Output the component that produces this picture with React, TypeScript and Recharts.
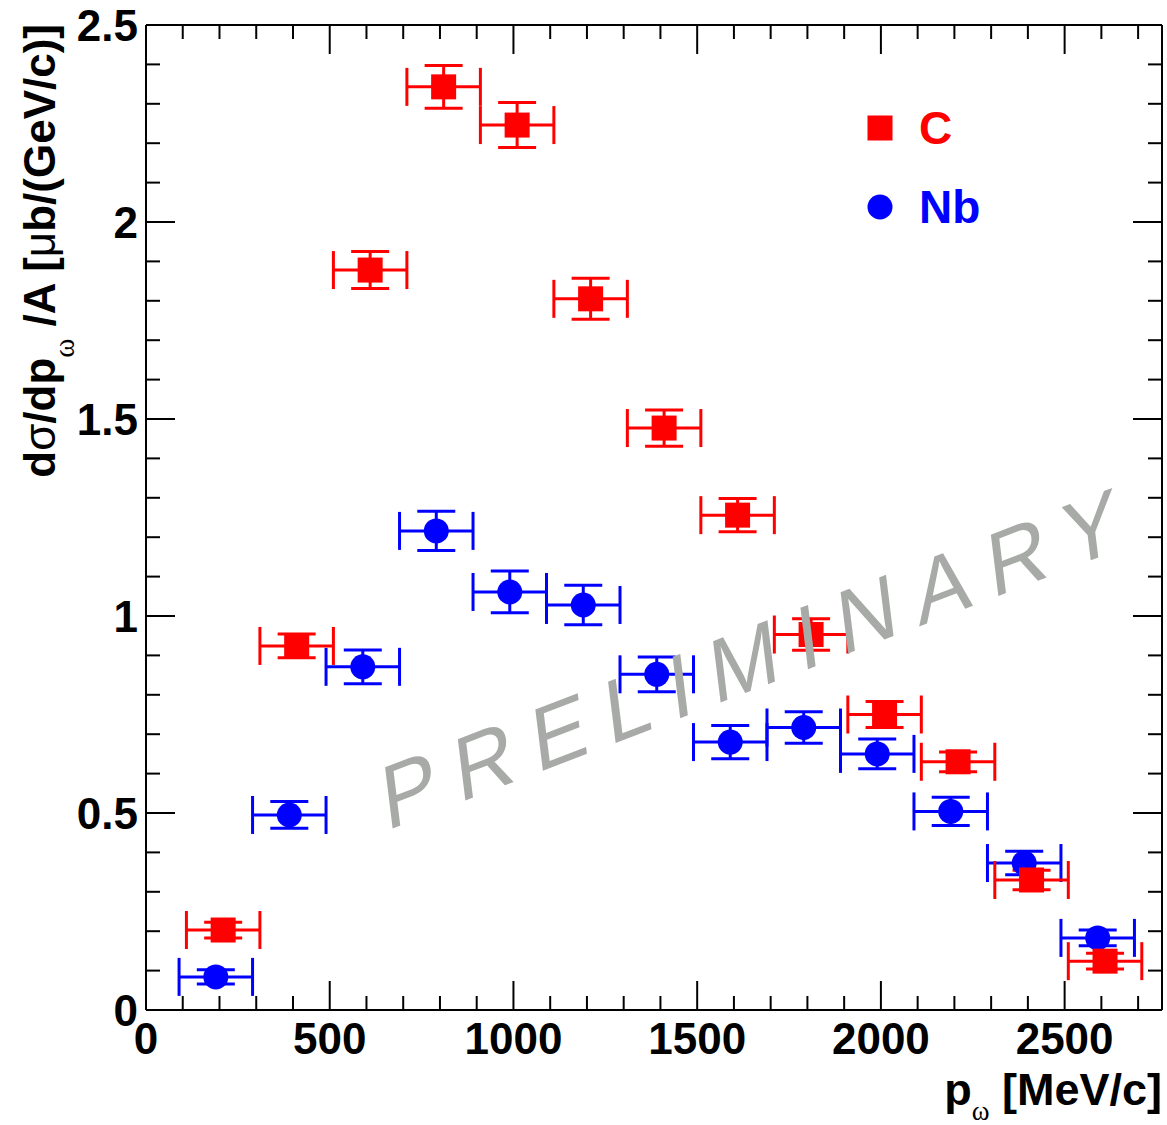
import React from "react";
import { ErrorBar, Legend, Scatter, ScatterChart, XAxis, YAxis } from "recharts";

// p_omega bin centres (MeV/c), shifted by +-10 per target as in the plot
const carbonP = [210, 410, 610, 810, 1010, 1210, 1410, 1610, 1810, 2010, 2210, 2410, 2610];
const carbonXs = [0.203, 0.924, 1.878, 2.343, 2.246, 1.805, 1.477, 1.256, 0.953, 0.75, 0.63, 0.33, 0.124];
const carbonErr = [0.02, 0.03, 0.047, 0.054, 0.057, 0.052, 0.046, 0.042, 0.04, 0.033, 0.025, 0.025, 0.02];

const niobiumP = [190, 390, 590, 790, 990, 1190, 1390, 1590, 1790, 1990, 2190, 2390, 2590];
const niobiumXs = [0.084, 0.495, 0.871, 1.216, 1.061, 1.028, 0.852, 0.68, 0.717, 0.65, 0.504, 0.373, 0.183];
const niobiumErr = [0.018, 0.034, 0.043, 0.05, 0.053, 0.05, 0.044, 0.042, 0.04, 0.038, 0.036, 0.03, 0.02];

const binHalfWidth = 100;

const xTicks = [0, 100, 200, 300, 400, 500, 600, 700, 800, 900, 1000, 1100, 1200, 1300, 1400, 1500, 1600, 1700, 1800, 1900, 2000, 2100, 2200, 2300, 2400, 2500, 2600, 2700];
const xLabels = [0, 500, 1000, 1500, 2000, 2500];
const yTicks = [0, 0.1, 0.2, 0.3, 0.4, 0.5, 0.6, 0.7, 0.8, 0.9, 1, 1.1, 1.2, 1.3, 1.4, 1.5, 1.6, 1.7, 1.8, 1.9, 2, 2.1, 2.2, 2.3, 2.4, 2.5];
const yLabels = [0, 0.5, 1, 1.5, 2, 2.5];

const carbon = carbonP.map((p, i) => ({ p, xs: carbonXs[i], ex: binHalfWidth, ey: carbonErr[i] }));
const niobium = niobiumP.map((p, i) => ({ p, xs: niobiumXs[i], ex: binHalfWidth, ey: niobiumErr[i] }));

const FONT = "'Liberation Sans', Arial, Helvetica, sans-serif";
const RED = "#ff0000";
const BLUE = "#0000ff";
const MAJOR = 29;
const MINOR = 14;

const hasLabel = (list: number[], v: number) => list.some((l) => Math.abs(l - v) < 1e-6);

function BottomTick({ x, y, payload }: any) {
  const v = payload.value;
  const major = hasLabel(xLabels, v);
  return (
    <g>
      <line x1={x} x2={x} y1={y} y2={y - (major ? MAJOR : MINOR)} stroke="#000" strokeWidth={2} />
      {major && (
        <text x={x} y={y + 44} textAnchor="middle" fontFamily={FONT} fontWeight="bold" fontSize={44} fill="#000">
          {v}
        </text>
      )}
    </g>
  );
}

function TopTick({ x, y, payload }: any) {
  const major = hasLabel(xLabels, payload.value);
  return <line x1={x} x2={x} y1={y} y2={y + (major ? MAJOR : MINOR)} stroke="#000" strokeWidth={2} />;
}

function LeftTick({ x, y, payload }: any) {
  const v = payload.value;
  const major = hasLabel(yLabels, v);
  return (
    <g>
      <line x1={x} x2={x + (major ? MAJOR : MINOR)} y1={y} y2={y} stroke="#000" strokeWidth={2} />
      {major && (
        <text x={x - 8} y={y + 15.5} textAnchor="end" fontFamily={FONT} fontWeight="bold" fontSize={44} fill="#000">
          {String(v)}
        </text>
      )}
    </g>
  );
}

function RightTick({ x, y, payload }: any) {
  const major = hasLabel(yLabels, payload.value);
  return <line x1={x} x2={x - (major ? MAJOR : MINOR)} y1={y} y2={y} stroke="#000" strokeWidth={2} />;
}

const square = (props: any) => (
  <rect x={props.cx - 12.5} y={props.cy - 12.5} width={25} height={25} fill={RED} />
);
const dot = (props: any) => <circle cx={props.cx} cy={props.cy} r={12.5} fill={BLUE} />;
const nothing = () => <g />;

function YTitle({ viewBox }: any) {
  const x = viewBox.x + 55;
  const y = viewBox.y - 1;
  return (
    <text
      x={x}
      y={y}
      transform={`rotate(-90, ${x}, ${y})`}
      textAnchor="end"
      fontFamily={FONT}
      fontWeight="bold"
      fontSize={44}
      fill="#000"
    >
      d<tspan fontWeight="normal">σ</tspan>/dp
      <tspan fontSize={29} fontWeight="normal" fontFamily="'Liberation Serif', serif" dy={19}>ω</tspan>
      <tspan dy={-19}> /A [</tspan>
      <tspan fontWeight="normal">μ</tspan>b/(GeV/c)]
    </text>
  );
}

function XTitle({ viewBox }: any) {
  const x = viewBox.x + viewBox.width;
  const y = viewBox.y + 95;
  return (
    <text x={x} y={y} textAnchor="end" fontFamily={FONT} fontWeight="bold" fontSize={45} fill="#000">
      p<tspan fontSize={27} fontWeight="normal" fontFamily="'Liberation Serif', serif" dy={15}>ω</tspan>
      <tspan dy={-15}> [MeV/c]</tspan>
    </text>
  );
}

function LegendBox({ payload }: any) {
  const items = (payload ?? [])
    .filter((item: any) => item.value === "C" || item.value === "Nb")
    .sort((a: any, b: any) => String(a.value).localeCompare(String(b.value)));
  return (
    <div>
      {items.map((item: any) => (
        <div key={item.value} style={{ display: "flex", alignItems: "center", height: 79 }}>
          <svg width={26} height={26}>
            {item.value === "C" ? (
              <rect x={0.5} y={0.5} width={25} height={25} fill={RED} />
            ) : (
              <circle cx={13} cy={13} r={12.5} fill={BLUE} />
            )}
          </svg>
          <span
            style={{
              marginLeft: 26,
              fontFamily: FONT,
              fontWeight: "bold",
              fontSize: 46,
              lineHeight: 1,
              color: item.value === "C" ? RED : BLUE,
            }}
          >
            {item.value}
          </span>
        </div>
      ))}
    </div>
  );
}

export default function App() {
  return (
    <div style={{ position: "absolute", left: 0, top: 0, width: 1167, height: 1125, background: "#fff" }}>
      <ScatterChart width={1167} height={1125} margin={{ top: 24, right: 4, left: 0, bottom: 0 }}>
        <XAxis
          xAxisId="bottom"
          type="number"
          dataKey="p"
          domain={[0, 2765]}
          ticks={xTicks}
          interval={0}
          allowDataOverflow
          height={115}
          tickSize={0}
          tickMargin={0}
          tickLine={false}
          tick={<BottomTick />}
          axisLine={{ stroke: "#000", strokeWidth: 2 }}
          label={<XTitle />}
        />
        <XAxis
          xAxisId="top"
          orientation="top"
          type="number"
          dataKey="p"
          domain={[0, 2765]}
          ticks={xTicks}
          interval={0}
          allowDataOverflow
          height={1}
          tickSize={0}
          tickMargin={0}
          tickLine={false}
          tick={<TopTick />}
          axisLine={{ stroke: "#000", strokeWidth: 2 }}
        />
        <YAxis
          yAxisId="left"
          type="number"
          dataKey="xs"
          domain={[0, 2.5]}
          ticks={yTicks}
          interval={0}
          allowDataOverflow
          width={146}
          tickSize={0}
          tickMargin={0}
          tickLine={false}
          tick={<LeftTick />}
          axisLine={{ stroke: "#000", strokeWidth: 2 }}
          label={<YTitle />}
        />
        <YAxis
          yAxisId="right"
          orientation="right"
          type="number"
          dataKey="xs"
          domain={[0, 2.5]}
          ticks={yTicks}
          interval={0}
          allowDataOverflow
          width={1}
          tickSize={0}
          tickMargin={0}
          tickLine={false}
          tick={<RightTick />}
          axisLine={{ stroke: "#000", strokeWidth: 2 }}
        />
        <Legend
          layout="horizontal"
          verticalAlign="middle"
          content={<LegendBox />}
          wrapperStyle={{ left: 867, top: 88, width: "auto" }}
        />
        {/* invisible series so the mirrored frame axes (top/right) get drawn */}
        <Scatter
          name="frame"
          data={carbon}
          xAxisId="top"
          yAxisId="right"
          shape={nothing}
          legendType="none"
          isAnimationActive={false}
        />
        <Scatter
          name="Nb"
          data={niobium}
          xAxisId="bottom"
          yAxisId="left"
          fill={BLUE}
          shape={dot}
          isAnimationActive={false}
        >
          <ErrorBar dataKey="ex" direction="x" width={19} stroke={BLUE} strokeWidth={3} isAnimationActive={false} />
          <ErrorBar dataKey="ey" direction="y" width={19} stroke={BLUE} strokeWidth={3} isAnimationActive={false} />
        </Scatter>
        <Scatter
          name="C"
          data={carbon}
          xAxisId="bottom"
          yAxisId="left"
          fill={RED}
          shape={square}
          isAnimationActive={false}
        >
          <ErrorBar dataKey="ex" direction="x" width={19} stroke={RED} strokeWidth={3} isAnimationActive={false} />
          <ErrorBar dataKey="ey" direction="y" width={19} stroke={RED} strokeWidth={3} isAnimationActive={false} />
        </Scatter>
      </ScatterChart>
      <svg
        width={1167}
        height={1125}
        style={{ position: "absolute", left: 0, top: 0, pointerEvents: "none" }}
      >
        <text
          transform="translate(386, 831) rotate(-21) skewX(-14)"
          fontFamily={FONT}
          fontSize={87}
          letterSpacing={20}
          fill="#a8aaa8"
        >
          PRELIMINARY
        </text>
      </svg>
    </div>
  );
}
